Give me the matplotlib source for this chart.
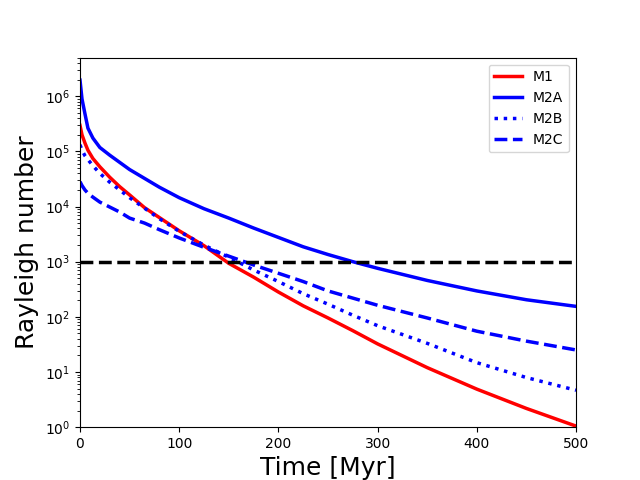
import numpy as np
import matplotlib
matplotlib.use("Agg")
import matplotlib.pyplot as plt

time_myr = [0, 2, 5, 8, 13, 20, 30, 40, 50, 65, 80, 100, 125, 150, 175,
            200, 225, 250, 275, 300, 350, 400, 450, 500]

# log10 of Rayleigh number
log_m1 = [5.47, 5.30, 5.15, 5.02, 4.87, 4.72, 4.53, 4.36, 4.21, 3.98, 3.80,
          3.56, 3.29, 2.97, 2.72, 2.45, 2.20, 1.98, 1.75, 1.51, 1.08, 0.69,
          0.34, 0.02]
log_m2a = [6.29, 5.95, 5.68, 5.42, 5.24, 5.07, 4.93, 4.80, 4.67, 4.51, 4.35,
           4.16, 3.96, 3.79, 3.61, 3.44, 3.27, 3.13, 3.00, 2.88, 2.66, 2.47,
           2.31, 2.19]
log_m2b = [5.12, 5.02, 4.92, 4.85, 4.74, 4.60, 4.44, 4.30, 4.16, 3.97, 3.78,
           3.55, 3.30, 3.08, 2.85, 2.64, 2.42, 2.23, 2.03, 1.84, 1.52, 1.17,
           0.90, 0.67]
log_m2c = [4.45, 4.38, 4.30, 4.24, 4.17, 4.08, 3.99, 3.90, 3.79, 3.70, 3.58,
           3.43, 3.26, 3.10, 2.94, 2.79, 2.64, 2.47, 2.34, 2.21, 1.98, 1.74,
           1.56, 1.40]
critical_ra = 1e3

labels = ["M1", "M2A", "M2B", "M2C"]

fig, ax = plt.subplots(figsize=(6.4, 4.8), dpi=100)
t = np.array(time_myr)
ax.plot(t, 10 ** np.array(log_m1), color="red", ls="-", lw=2.5, label=labels[0])
ax.plot(t, 10 ** np.array(log_m2a), color="blue", ls="-", lw=2.5, label=labels[1])
ax.plot(t, 10 ** np.array(log_m2b), color="blue", ls=":", lw=2.5, label=labels[2])
ax.plot(t, 10 ** np.array(log_m2c), color="blue", ls="--", lw=2.5, label=labels[3])
ax.axhline(critical_ra, color="black", ls="--", lw=2.5)

ax.set_yscale("log")
ax.set_xlim(0, 500)
ax.set_ylim(1, 5e6)
ax.set_xlabel("Time [Myr]", fontsize=18)
ax.set_ylabel("Rayleigh number", fontsize=18)
ax.legend(loc="upper right")

fig.savefig("out.png", dpi=100)
